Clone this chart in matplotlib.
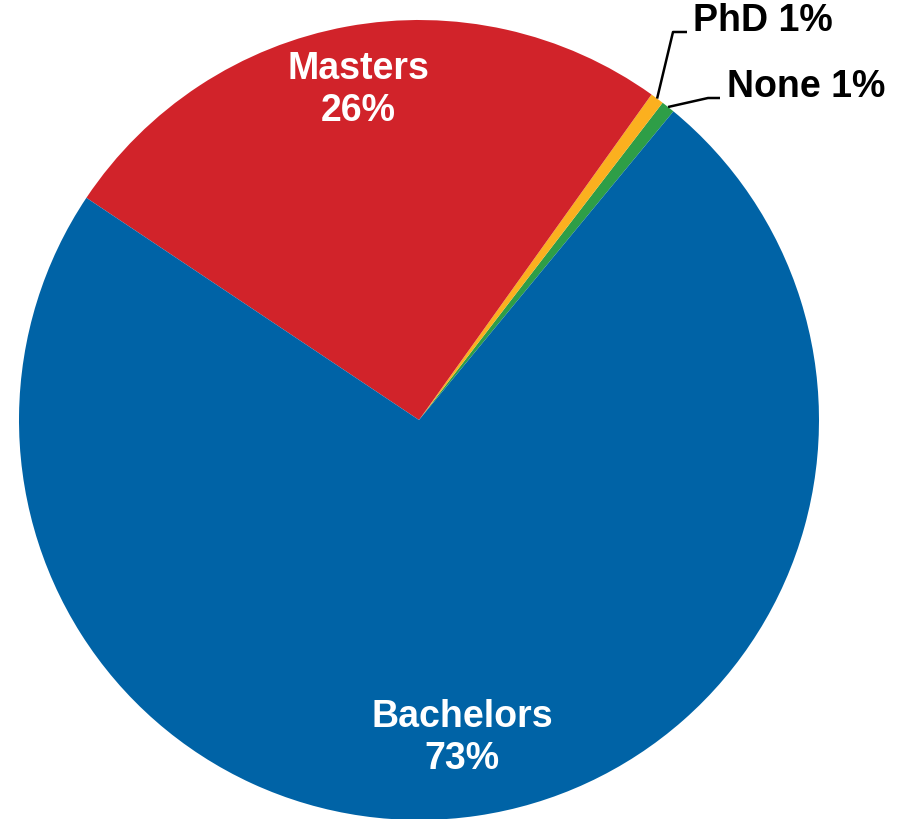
import numpy as np
import matplotlib
matplotlib.use("Agg")
import matplotlib.pyplot as plt

categories = ["None", "PhD", "Masters", "Bachelors"]
values = [0.55, 0.55, 25.5, 73.4]
pct_labels = ["1%", "1%", "26%", "73%"]
colors = ["#2E9E47", "#FBB01F", "#D1232A", "#0063A6"]

plt.rcParams['font.family'] = ['Liberation Sans', 'DejaVu Sans']

fig = plt.figure(figsize=(9.01, 8.19), dpi=100)
ax = fig.add_axes([0, 0, 1, 1])
R = 400
wedges, _ = ax.pie(values, colors=colors, startangle=50.5, counterclock=True,
                   radius=R, center=(0, 0), wedgeprops=dict(linewidth=0))
ax.set_xlim(-419, 482)
ax.set_ylim(-399, 420)
ax.set_aspect('equal')
ax.axis('off')

# inside labels
inside = {"Masters": (-61, 330), "Bachelors": (43, -318)}
for i, c in enumerate(categories):
    if c in inside:
        x, y = inside[c]
        ax.text(x, y, f"{c}\n{pct_labels[i]}", color="white", fontsize=27,
                fontweight="bold", ha="center", va="center", linespacing=1.2)

# outside labels with leader lines
outside = {"PhD": [(254, 388), (268, 388), (274, 389)],
           "None": [(289, 322), (301, 322), (308, 323)]}
for i, (w, c) in enumerate(zip(wedges, categories)):
    if c in outside:
        ang = np.deg2rad((w.theta1 + w.theta2) / 2)
        p0 = (R * np.cos(ang), R * np.sin(ang))
        (ex, ey), (hx, hy), (tx, ty) = outside[c]
        ax.plot([p0[0], ex, hx], [p0[1], ey, hy], color="black", lw=1.8,
                solid_capstyle="butt")
        ax.text(tx, ty, f"{c} {pct_labels[i]}", color="black",
                fontsize=27, fontweight="bold", ha="left", va="baseline")

fig.savefig("out.png", dpi=100)
